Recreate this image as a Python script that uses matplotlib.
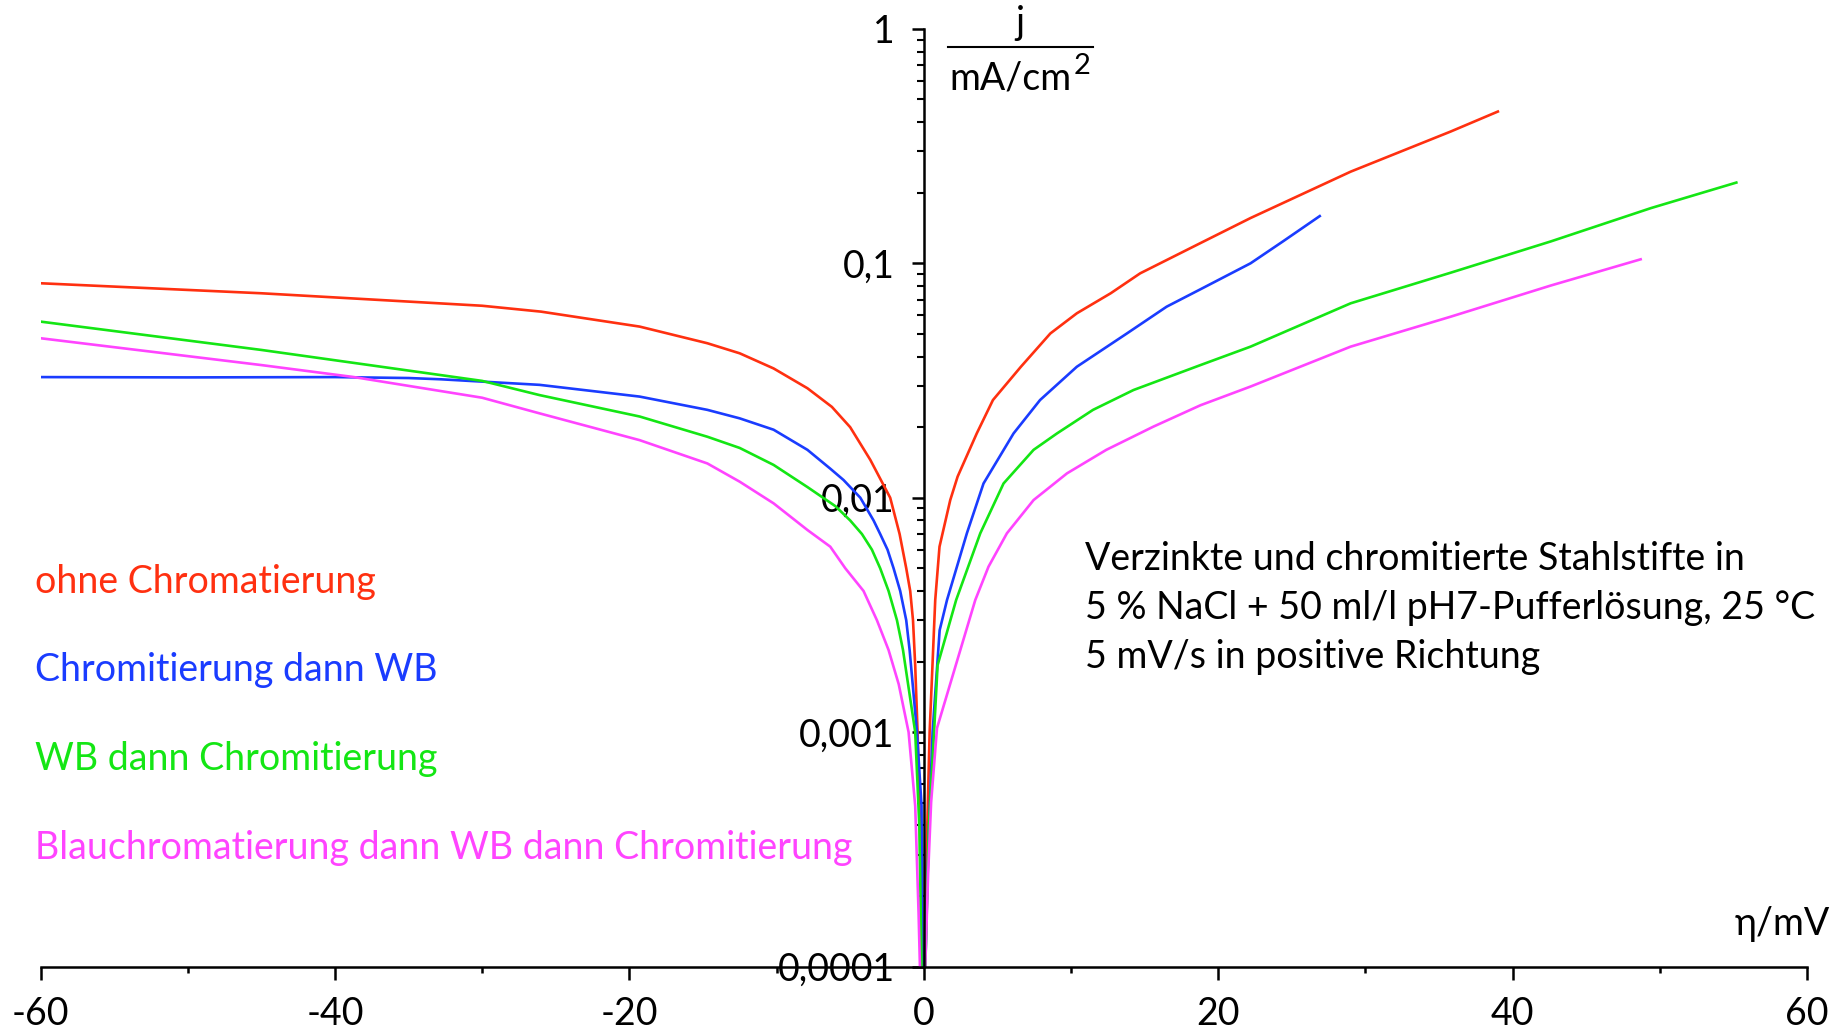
import matplotlib
matplotlib.use("Agg")
import matplotlib.pyplot as plt
from matplotlib.ticker import LogLocator, NullFormatter

plt.rcParams["font.family"] = ["Lato", "DejaVu Sans"]
plt.rcParams["axes.unicode_minus"] = False

# eta in mV, j in mA/cm2
eta_red = [-60, -45, -30, -26, -19.3, -14.7, -12.5, -10.2, -7.9, -6.24, -5.0, -3.63,
           -2.28, -1.64, -1.19, -0.92, -0.73, -0.58, -0.42, -0.22, -0.1, 0.2, 0.4, 0.78,
           1.07, 1.8, 2.3, 3.6, 4.7, 6.6, 8.6, 10.4, 12.7, 14.7, 18.8, 22.2, 29.0, 35.8,
           39.0]
j_red = [0.0822, 0.0745, 0.0659, 0.0622, 0.0537, 0.0456, 0.0413, 0.0356, 0.0293, 0.0244,
         0.0200, 0.0145, 0.0100, 0.0070, 0.0050, 0.0040, 0.0030, 0.00192, 0.00100,
         0.000316, 0.00004, 0.000316, 0.00100, 0.00366, 0.00618, 0.00977, 0.0123,
         0.0188, 0.0261, 0.0362, 0.0502, 0.0612, 0.0745, 0.0906, 0.122, 0.156, 0.246,
         0.365, 0.444]

eta_blue = [-60, -50, -40, -35, -32.8, -26.1, -19.3, -14.7, -12.5, -10.2, -7.9, -6.35,
            -5.45, -4.31, -3.41, -2.96, -2.46, -2.05, -1.6, -1.19, -0.96, -0.46, -0.15,
            -0.05, 0.3, 0.6, 1.08, 1.58, 2.93, 4.06, 6.1, 7.9, 10.4, 13.8, 16.5, 18.8,
            22.2, 24.4, 26.9]
j_blue = [0.0327, 0.0326, 0.0327, 0.0324, 0.0320, 0.0303, 0.0270, 0.0237, 0.0218, 0.0195,
          0.0160, 0.0133, 0.0119, 0.0100, 0.0080, 0.0070, 0.0060, 0.0050, 0.0040, 0.0030,
          0.00224, 0.00100, 0.000484, 0.00004, 0.000316, 0.00100, 0.00272, 0.00366,
          0.00705, 0.0115, 0.0188, 0.0261, 0.0362, 0.0502, 0.0653, 0.0775, 0.100, 0.124,
          0.159]

eta_green = [-60, -45, -30, -26.1, -19.3, -14.7, -12.5, -10.2, -7.9, -6.0, -5.0, -4.2,
             -3.52, -2.96, -2.39, -1.82, -1.41, -0.58, -0.3, -0.05, 0.35, 0.7, 0.94, 2.2,
             3.84, 5.42, 7.46, 9.05, 11.5, 14.25, 18.8, 22.2, 29.0, 35.8, 42.6, 49.4, 55.2]
j_green = [0.0564, 0.0427, 0.0315, 0.0274, 0.0222, 0.0182, 0.0163, 0.0138, 0.0111, 0.0092,
           0.0080, 0.0070, 0.0060, 0.0050, 0.0040, 0.0030, 0.00224, 0.00100, 0.000398,
           0.00004, 0.000398, 0.00100, 0.00193, 0.00366, 0.00705, 0.0115, 0.0160, 0.0188,
           0.0237, 0.0288, 0.0368, 0.0441, 0.0675, 0.0912, 0.124, 0.172, 0.221]

eta_pink = [-60, -45, -38.7, -30, -26.1, -19.3, -14.7, -12.5, -10.2, -7.9, -6.35, -5.33,
            -4.09, -3.18, -2.39, -1.7, -1.03, -0.58, -0.35, -0.1, 0.3, 0.5, 0.9, 3.5, 4.4,
            5.65, 7.46, 9.73, 12.4, 15.6, 18.8, 22.2, 29.0, 35.8, 42.6, 48.7]
j_pink = [0.0479, 0.0368, 0.0327, 0.0267, 0.0229, 0.0176, 0.0140, 0.0117, 0.00946, 0.00728,
          0.00618, 0.0050, 0.0040, 0.0030, 0.00224, 0.0016, 0.00100, 0.000484, 0.000168,
          0.00004, 0.000251, 0.000501, 0.00104, 0.00366, 0.00508, 0.00705, 0.00977,
          0.0127, 0.0160, 0.0201, 0.0248, 0.0298, 0.0441, 0.0592, 0.0804, 0.104]

labels = ["ohne Chromatierung", "Chromitierung dann WB", "WB dann Chromitierung",
          "Blauchromatierung dann WB dann Chromitierung"]
colors = ["#ff3010", "#1a3cff", "#14e614", "#ff44ff"]

x_ticks = [-60, -40, -20, 0, 20, 40, 60]
y_ticks = [0.0001, 0.001, 0.01, 0.1, 1]
y_ticklabels = ["0,0001", "0,001", "0,01", "0,1", "1"]

note_lines = ["Verzinkte und chromitierte Stahlstifte in",
              "5 % NaCl + 50 ml/l pH7-Pufferlösung, 25 °C",
              "5 mV/s in positive Richtung"]

W, H = 1848, 1035
fig = plt.figure(figsize=(W / 100, H / 100), dpi=100)
ax = fig.add_axes([40.5 / W, 1 - 966.5 / H, (1807 - 40.5) / W, (966.5 - 28.9) / H])

series = [(eta_red, j_red), (eta_blue, j_blue), (eta_green, j_green), (eta_pink, j_pink)]
for (x, y), c in zip(series, colors):
    ax.plot(x, y, color=c, lw=1.9)

ax.set_yscale("log")
ax.set_xlim(-60, 60)
ax.set_ylim(1e-4, 1)

ax.spines["top"].set_visible(False)
ax.spines["right"].set_visible(False)
ax.spines["left"].set_position(("data", 0))
for s in ["left", "bottom"]:
    ax.spines[s].set_linewidth(1.8)

ax.set_xticks(x_ticks)
ax.set_xticks(range(-50, 60, 20), minor=True)
ax.set_yticks(y_ticks, labels=y_ticklabels)
ax.yaxis.set_minor_locator(LogLocator(base=10, subs=range(2, 10)))
ax.yaxis.set_minor_formatter(NullFormatter())

ax.tick_params(axis="both", which="major", direction="out", width=1.8, length=9,
               labelsize=27, pad=12)
ax.tick_params(axis="x", which="minor", direction="out", width=1.8, length=4)
ax.tick_params(axis="y", which="minor", direction="out", width=1.5, length=5)

# unit label as a fraction next to the y axis
fig.text(1020 / W, 1 - 34 / H, "j", fontsize=27, ha="center", va="baseline")
fig.add_artist(plt.Line2D([948 / W, 1093 / W], [1 - 47 / H, 1 - 47 / H],
                          color="black", lw=1.5))
unit = fig.text(1010 / W, 1 - 90 / H, "mA/cm", fontsize=27, ha="center", va="baseline")
ax.annotate("2", xy=(1.02, 0.5), xycoords=unit, fontsize=21, ha="left", va="bottom")

fig.text(1830 / W, 1 - 935 / H, "η/mV", fontsize=27, ha="right", va="baseline")

# series names in the left part
for i, (txt, c) in enumerate(zip(labels, colors)):
    fig.text(35 / W, 1 - (593 + i * 88.5) / H, txt, color=c, fontsize=27,
             ha="left", va="baseline")

for i, line in enumerate(note_lines):
    fig.text(1085 / W, 1 - (570 + i * 49) / H, line, fontsize=27,
             ha="left", va="baseline")

fig.savefig("out.png", dpi=100)
